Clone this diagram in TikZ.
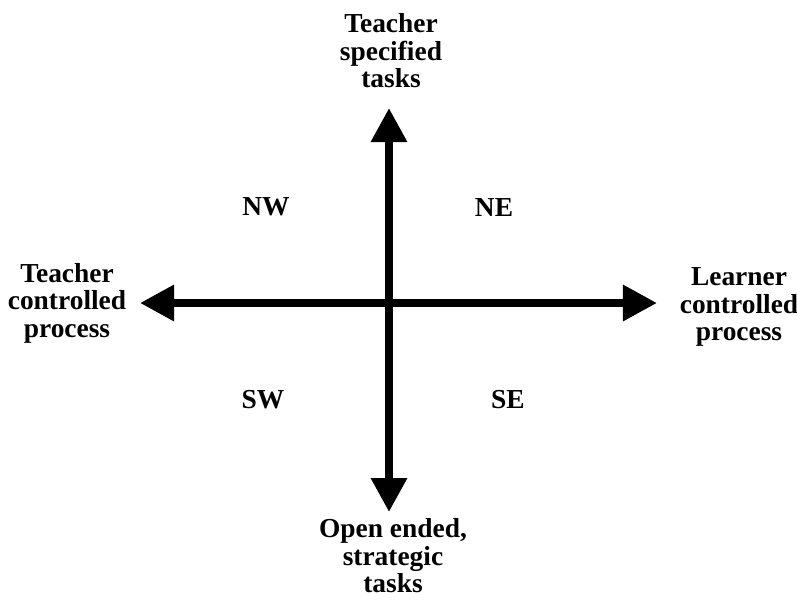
\documentclass[tikz,border=0pt]{standalone}
\usepackage{fontspec}
\setmainfont{Liberation Serif}
\usetikzlibrary{arrows.meta}
\begin{document}
\begin{tikzpicture}[x=0.025cm,y=-0.025cm,
  lbl/.style={font=\bfseries\fontsize{19.5}{19.5}\selectfont,align=center,inner sep=0pt},
  quad/.style={lbl,anchor=base},
  axis/.style={line width=0.2cm,{Triangle[length=0.85cm,width=0.86cm]}-{Triangle[length=0.85cm,width=0.86cm]}}]
\useasboundingbox (0,0) rectangle (797,614);
\coordinate (n) at (389,108);
\coordinate (s) at (389,512);
\coordinate (w) at (140,303);
\coordinate (e) at (657,303);
\draw[axis] (s) -- (n);
\draw[axis] (w) -- (e);
\node[lbl] (specified) at (391,51) {Teacher\\specified\\tasks};
\node[lbl] (openended) at (393,556) {Open ended,\\strategic\\tasks};
\node[lbl] (teacherctl) at (67,303) {Teacher\\controlled\\process};
\node[lbl] (learnerctl) at (739,307) {Learner\\controlled\\process};
\node[quad] (nw) at (266,215) {NW};
\node[quad] (ne) at (494,216) {NE};
\node[quad] (sw) at (263,408) {SW};
\node[quad] (se) at (508,408) {SE};
\end{tikzpicture}
\end{document}
